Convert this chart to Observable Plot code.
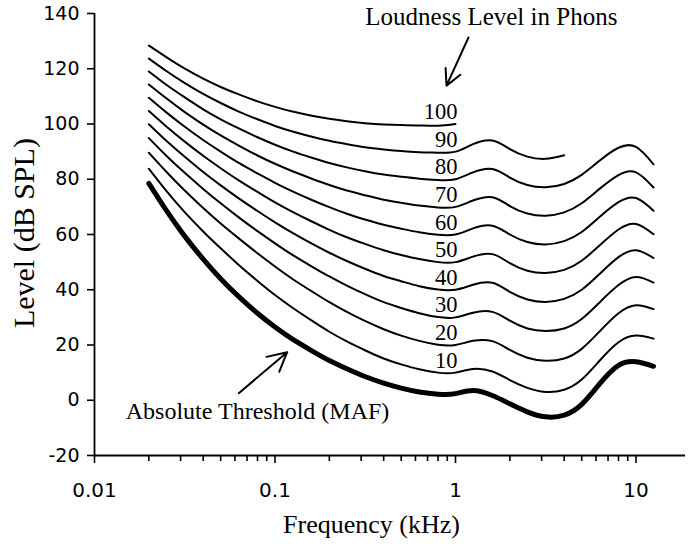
<!DOCTYPE html>
<html>
<head>
<meta charset="utf-8">
<script src="https://cdn.jsdelivr.net/npm/d3@7"></script>
<script src="https://cdn.jsdelivr.net/npm/@observablehq/plot@0.6"></script>
<style>
  html, body { margin: 0; padding: 0; background: #fff; }
  #chart svg { display: block; }
</style>
</head>
<body>
<div id="chart"></div>
<script>
// Frequencies (kHz) at which the curves are read
const freqs = [0.02, 0.025, 0.0315, 0.04, 0.05, 0.063, 0.08, 0.1, 0.125, 0.16, 0.2, 0.25, 0.315, 0.4, 0.5, 0.63, 0.8, 1, 1.25, 1.6, 2, 2.5, 3.15, 4, 5, 6.3, 8, 10, 12.5];

// Equal-loudness contours (dB SPL), one array per loudness level
const phon10  = [83.8, 75.8, 68.2, 61.1, 55.0, 49.0, 43.2, 38.1, 33.5, 28.8, 24.8, 21.3, 18.1, 15.1, 13.0, 11.2, 10.0, 10.0, 11.3, 10.4, 7.3, 4.5, 3.0, 3.8, 7.5, 14.4, 21.0, 23.4, 22.3];
const phon20  = [89.6, 82.7, 76.0, 69.6, 64.0, 58.6, 53.2, 48.4, 43.9, 39.4, 35.5, 32.0, 28.7, 25.7, 23.4, 21.5, 20.1, 20.0, 21.5, 21.4, 18.2, 15.4, 14.3, 15.1, 18.6, 25.0, 31.5, 34.4, 33.0];
const phon30  = [94.9, 88.5, 82.4, 76.5, 71.3, 66.2, 61.2, 56.8, 52.6, 48.4, 44.8, 41.5, 38.4, 35.5, 33.4, 31.5, 30.1, 30.0, 31.7, 32.0, 28.8, 26.0, 25.1, 26.0, 29.4, 35.5, 41.7, 44.6, 42.6];
const phon40  = [99.9, 93.9, 88.2, 82.6, 77.8, 73.1, 68.5, 64.4, 60.6, 56.7, 53.4, 50.4, 47.6, 45.0, 43.1, 41.3, 40.1, 40.0, 41.8, 42.5, 39.2, 36.5, 35.6, 36.7, 40.0, 45.8, 51.8, 54.3, 51.5];
const phon50  = [104.7, 99.1, 93.7, 88.5, 84.0, 79.6, 75.4, 71.6, 68.2, 64.7, 61.7, 59.0, 56.6, 54.3, 52.6, 51.1, 50.0, 50.0, 52.0, 52.9, 49.6, 46.9, 46.1, 47.2, 50.5, 56.1, 61.8, 63.8, 60.1];
const phon60  = [109.5, 104.2, 99.1, 94.2, 90.0, 85.9, 82.1, 78.7, 75.6, 72.5, 69.9, 67.5, 65.4, 63.5, 62.1, 60.8, 59.9, 60.0, 62.2, 63.2, 60.0, 57.3, 56.4, 57.6, 60.9, 66.4, 71.7, 73.2, 68.6];
const phon70  = [114.3, 109.3, 104.4, 99.8, 95.9, 92.2, 88.6, 85.6, 82.9, 80.2, 77.9, 75.9, 74.2, 72.6, 71.5, 70.5, 69.8, 70.0, 72.3, 73.5, 70.3, 67.6, 66.8, 68.0, 71.3, 76.6, 81.5, 82.5, 77.0];
const phon80  = [119.0, 114.2, 109.7, 105.3, 101.7, 98.4, 95.2, 92.5, 90.1, 87.8, 85.9, 84.3, 82.9, 81.7, 80.9, 80.2, 79.7, 80.0, 82.5, 83.7, 80.6, 77.9, 77.1, 78.3, 81.6, 86.8, 91.4, 91.7, 85.4];
const phon90  = [123.7, 119.2, 114.9, 110.9, 107.6, 104.5, 101.7, 99.3, 97.3, 95.4, 93.9, 92.7, 91.6, 90.8, 90.2, 89.8, 89.6, 90.0, 92.7, 94.0, 90.9, 88.2, 87.4, 88.7];
const phon100 = [128.4, 124.2, 120.1, 116.4, 113.4, 110.7, 108.2, 106.2, 104.5, 103.0, 101.9, 101.0, 100.3, 99.8, 99.6, 99.5, 99.4, 100.0];

// Absolute threshold (MAF), dB SPL
const maf = [78.5, 68.7, 59.5, 51.1, 44.0, 37.5, 31.5, 26.5, 22.1, 17.9, 14.4, 11.4, 8.6, 6.2, 4.4, 3.0, 2.2, 2.4, 3.5, 1.7, -1.3, -4.2, -6.0, -5.4, -1.5, 6.0, 12.6, 13.9, 12.3];

const phonLevels = [10, 20, 30, 40, 50, 60, 70, 80, 90, 100];
const labelFreq = 1; // contour labels sit at 1 kHz

// Axis ticks
const yTicks = [-20, 0, 20, 40, 60, 80, 100, 120, 140];
const xMajorTicks = [0.01, 0.1, 1, 10];
const xMajorLabels = ["0.01", "0.1", "1", "10"];
const xMinorTicks = [0.02, 0.03, 0.04, 0.05, 0.06, 0.07, 0.08, 0.09,
                     0.2, 0.3, 0.4, 0.5, 0.6, 0.7, 0.8, 0.9,
                     2, 3, 4, 5, 6, 7, 8, 9];

// Annotations (data coordinates: kHz, dB)
const annotationTexts = [
  {text: "Loudness Level in Phons", f: 1.58, level: 138.9, anchor: "middle", size: 25},
  {text: "Absolute Threshold (MAF)", f: 0.0149, level: -4.1, anchor: "start", size: 24}
];
const annotationArrows = [
  {f1: 1.18, l1: 131.3, f2: 0.8915, l2: 113.9},
  {f1: 0.063, l1: 2.55, f2: 0.1168, l2: 17.4}
];

// Build tables
const curveArrays = [phon10, phon20, phon30, phon40, phon50, phon60, phon70, phon80, phon90, phon100];
const contourRows = [];
curveArrays.forEach((arr, i) => {
  arr.forEach((v, j) => contourRows.push({f: freqs[j], level: v, phon: phonLevels[i]}));
});
const mafRows = maf.map((v, j) => ({f: freqs[j], level: v}));
const labelRows = phonLevels.map(p => ({f: labelFreq, level: p, label: String(p)}));

const serif = "'Liberation Serif', 'Times New Roman', serif";
const sans = "'DejaVu Sans', 'Open Sans', sans-serif";

const chart = Plot.plot({
  width: 689,
  height: 553,
  marginLeft: 94,
  marginRight: 4,
  marginTop: 13,
  marginBottom: 98,
  style: {background: "white", color: "black", fontFamily: sans, fontSize: "19px"},
  x: {type: "log", domain: [0.01, 18.8]},
  y: {domain: [-20, 140]},
  marks: [
    // axis lines
    Plot.ruleX([0.01], {y1: -20, y2: 140, stroke: "black", strokeWidth: 1.8}),
    Plot.ruleY([-20], {x1: 0.01, x2: 18.8, stroke: "black", strokeWidth: 1.8}),
    // y axis
    Plot.axisY(yTicks, {tickSize: 7, tickPadding: 8, tickFormat: d => String(d), label: null,
      fontSize: 19, fontFamily: sans, strokeWidth: 1.6}),
    // x axis major
    Plot.axisX(xMajorTicks, {tickSize: 8, tickPadding: 19, tickFormat: d => xMajorLabels[xMajorTicks.indexOf(d)],
      label: null, fontSize: 20, fontFamily: sans, strokeWidth: 1.6}),
    // x axis minor (ticks only)
    Plot.axisX(xMinorTicks, {tickSize: 6, fill: "none", label: null, strokeWidth: 1.6}),
    // contours
    Plot.line(contourRows, {x: "f", y: "level", z: "phon", curve: "natural", stroke: "black", strokeWidth: 2}),
    // absolute threshold
    Plot.line(mafRows, {x: "f", y: "level", curve: "natural", stroke: "black", strokeWidth: 5, strokeLinejoin: "round"}),
    // contour labels
    Plot.text(labelRows, {x: "f", y: "level", text: "label", textAnchor: "end", lineAnchor: "bottom",
      dx: 2, dy: -5, fontFamily: serif, fontSize: 22.5, fill: "black"}),
    // annotations
    Plot.text(annotationTexts.filter(d => d.anchor === "middle"), {x: "f", y: "level", text: "text", textAnchor: "middle",
      lineAnchor: "middle", fontFamily: serif, fontSize: 25, fill: "black"}),
    Plot.text(annotationTexts.filter(d => d.anchor === "start"), {x: "f", y: "level", text: "text", textAnchor: "start",
      lineAnchor: "middle", fontFamily: serif, fontSize: 24, fill: "black"}),
    Plot.arrow(annotationArrows, {x1: "f1", y1: "l1", x2: "f2", y2: "l2", stroke: "black", strokeWidth: 2,
      headLength: 16, headAngle: 55}),
    // axis titles
    Plot.text(["Frequency (kHz)"], {x: 0.3424, frameAnchor: "bottom", dy: 77, text: d => d, lineAnchor: "bottom",
      textAnchor: "middle", fontFamily: serif, fontSize: 26, fill: "black"}),
    Plot.text(["Level (dB SPL)"], {y: 60.5, frameAnchor: "left", dx: -70, rotate: -90, text: d => d, lineAnchor: "middle",
      textAnchor: "middle", fontFamily: serif, fontSize: 30, fill: "black"})
  ]
});
document.getElementById("chart").appendChild(chart);
</script>
</body>
</html>
